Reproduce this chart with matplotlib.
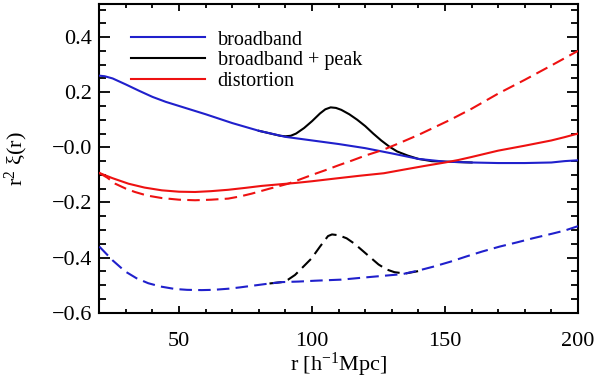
import matplotlib
matplotlib.use("Agg")
from matplotlib import pyplot as plt
from matplotlib.ticker import MultipleLocator, FixedLocator, FixedFormatter

matplotlib.rcParams.update({
    'font.family': ['Liberation Serif', 'DejaVu Serif'],
    'mathtext.fontset': 'custom',
    'mathtext.rm': 'Liberation Serif',
    'mathtext.it': 'Liberation Serif:italic',
})

# broadband, solid
r_bb = [20, 22, 25, 30, 35, 40, 45, 50, 60, 70, 80, 90, 100, 110, 120, 130,
        140, 150, 160, 170, 180, 190, 195, 200]
bb = [0.26, 0.258, 0.25, 0.228, 0.205, 0.183, 0.165, 0.15, 0.12, 0.088, 0.06,
      0.038, 0.025, 0.012, -0.003, -0.022, -0.042, -0.052, -0.055, -0.057,
      -0.057, -0.055, -0.05, -0.047]

# broadband + peak, solid
r_pk = [80, 88, 90, 92, 94, 97, 100, 103, 105, 107, 109, 111, 114, 117, 120,
        123, 126, 129, 132, 136, 140, 145, 150, 160]
pk = [0.06, 0.042, 0.04, 0.042, 0.05, 0.07, 0.095, 0.123, 0.138, 0.145, 0.143,
      0.136, 0.12, 0.1, 0.077, 0.05, 0.025, 0.003, -0.015, -0.03, -0.042,
      -0.05, -0.052, -0.055]

# distortion, solid
r_ds = [20, 25, 31, 37, 43.5, 50, 56, 62, 68.5, 75, 81, 88, 94, 100, 108, 118,
        127, 135, 142, 150, 155, 160, 170, 180, 190, 195, 200]
ds = [-0.093, -0.112, -0.132, -0.146, -0.156, -0.161, -0.162, -0.159, -0.154,
      -0.147, -0.14, -0.134, -0.129, -0.123, -0.114, -0.103, -0.094, -0.08,
      -0.068, -0.055, -0.046, -0.035, -0.012, 0.006, 0.025, 0.037, 0.05]

# distortion, dashed
r_dsd = [20, 23, 26, 30, 33.4, 38, 43.5, 50, 56, 62, 68.5, 73, 77.3, 84, 91,
         95, 100, 105, 110, 115, 120, 125.5, 128, 133, 140, 152, 160, 170, 180,
         190, 200]
dsd = [-0.093, -0.11, -0.132, -0.15, -0.162, -0.175, -0.184, -0.19, -0.192,
       -0.19, -0.186, -0.178, -0.168, -0.15, -0.132, -0.118, -0.1, -0.083,
       -0.065, -0.048, -0.03, -0.013, -0.004, 0.016, 0.045, 0.1, 0.14, 0.195,
       0.245, 0.297, 0.35]

# broadband, dashed
r_bbd = [20, 22, 25, 29.7, 34, 38.4, 43, 48.5, 53, 58.5, 63, 68.5, 73, 78.5,
         84, 88.6, 95, 101, 111, 120, 127, 134, 140, 145.6, 152, 158, 164,
         170.6, 177, 183, 190, 195, 200]
bbd = [-0.36, -0.38, -0.41, -0.45, -0.475, -0.493, -0.505, -0.514, -0.517,
       -0.518, -0.517, -0.513, -0.508, -0.501, -0.494, -0.489, -0.487, -0.484,
       -0.48, -0.472, -0.466, -0.46, -0.447, -0.433, -0.415, -0.396, -0.378,
       -0.36, -0.345, -0.33, -0.314, -0.302, -0.286]

# broadband + peak, dashed
r_pkd = [84, 88.6, 91, 93.6, 96, 99.8, 103, 106, 107.5, 110, 113, 116, 119,
         122, 125, 128, 131, 135, 140]
pkd = [-0.494, -0.489, -0.48, -0.463, -0.44, -0.403, -0.36, -0.322, -0.316,
       -0.319, -0.33, -0.35, -0.375, -0.4, -0.425, -0.443, -0.453, -0.458,
       -0.449]

labels = ['broadband', 'broadband + peak', 'distortion']
yticks = [-0.6, -0.4, -0.2, 0.0, 0.2, 0.4]
ytick_labels = ['\u22120.6', '\u22120.4', '\u22120.2', '\u22120.0', '0.2', '0.4']
xticks = [50, 100, 150, 200]

blue = '#2020cc'
red = '#ee1111'
dash = (6, 3)

fig = plt.figure(figsize=(6.0, 3.82), dpi=100)
ax = fig.add_axes([0.1655, 0.1814, 0.7978, 0.8081])

ax.plot(r_pk, pk, color='black', lw=1.5, zorder=2, label=labels[1])
ax.plot(r_bb, bb, color=blue, lw=1.5, zorder=3, label=labels[0])
ax.plot(r_ds, ds, color=red, lw=1.5, zorder=3, label=labels[2])
ax.plot(r_dsd, dsd, color=red, lw=1.5, dashes=dash, zorder=3)
ax.plot(r_pkd, pkd, color='black', lw=1.5, dashes=dash, zorder=2)
ax.plot(r_bbd, bbd, color=blue, lw=1.5, dashes=dash, zorder=3)

ax.set_xlim(20, 200)
ax.set_ylim(-0.6, 0.52)

ax.xaxis.set_major_locator(FixedLocator(xticks))
ax.xaxis.set_minor_locator(MultipleLocator(10))
ax.yaxis.set_major_locator(FixedLocator(yticks))
ax.yaxis.set_major_formatter(FixedFormatter(ytick_labels))
ax.yaxis.set_minor_locator(MultipleLocator(0.05))

ax.tick_params(which='both', direction='in', top=True, right=True,
               width=1.3, labelsize=16, colors='black')
ax.tick_params(axis='x', which='major', length=5, pad=14)
ax.tick_params(axis='x', which='minor', length=3)
ax.tick_params(axis='y', which='major', length=8, pad=5)
ax.tick_params(axis='y', which='minor', length=5)
for s in ax.spines.values():
    s.set_linewidth(1.5)

ax.set_xlabel(r'r [h$^{-1}$Mpc]', fontsize=16, labelpad=0)
ax.set_ylabel(r'r$^2$ $\mathrm{\xi}$(r)', fontsize=16, labelpad=16)

h, l = ax.get_legend_handles_labels()
order = [1, 0, 2]
ax.legend([h[i] for i in order], [l[i] for i in order], loc='upper left',
          bbox_to_anchor=(0.045, 0.947), frameon=False, fontsize=14.5,
          handlelength=3.7, handletextpad=0.6, labelspacing=0.07, borderpad=0)

fig.savefig('out.png', dpi=100)
